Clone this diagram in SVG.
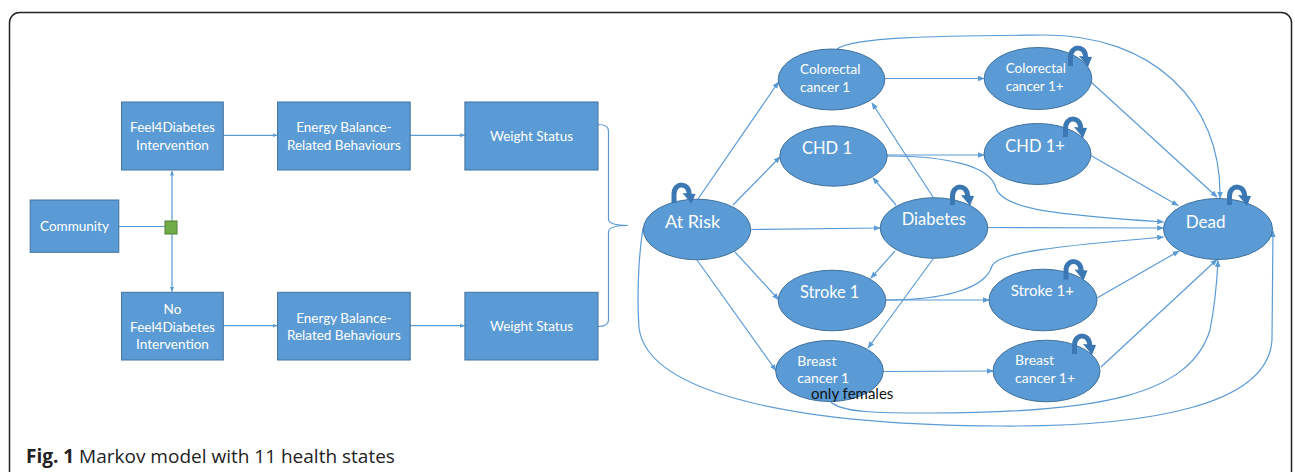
<svg xmlns="http://www.w3.org/2000/svg" width="1295" height="472" viewBox="0 0 1295 472">
<style>
.box{fill:#5B9BD5;stroke:#41719C;stroke-width:1}
.st{fill:#5B9BD5;stroke:#41719C;stroke-width:1}
.bt{font-family:Lato,"Open Sans",sans-serif;font-size:13.5px;fill:#fff;text-anchor:middle}
.et{font-family:Lato,"Open Sans",sans-serif;fill:#fff}
.big{font-size:17px}
.sm{font-size:13.5px}
.ln{fill:none;stroke:#5B9BD5;stroke-width:1.2}
.loop{fill:none;stroke:#3A77B3;stroke-width:5}
.cap{font-family:"Open Sans","Noto Sans",sans-serif;font-size:19px;fill:#222}
</style>
<defs>
<marker id="arr" viewBox="0 0 10 10" refX="9" refY="5" markerWidth="7" markerHeight="7" markerUnits="userSpaceOnUse" orient="auto"><path d="M0,1 L10,5 L0,9 z" fill="#5B9BD5"/></marker>
<marker id="arrs" viewBox="0 0 10 10" refX="9" refY="5" markerWidth="5" markerHeight="5" markerUnits="userSpaceOnUse" orient="auto"><path d="M0,1 L10,5 L0,9 z" fill="#5B9BD5"/></marker>
<g id="selfloop">
<path class="loop" d="M2.5,0 V-9 C2.5,-21 18.5,-21 17.5,-8"/>
<polygon points="11,-10 24,-9 20,1" fill="#3A77B3"/>
</g>
</defs>
<rect x="9.5" y="12.5" width="1282" height="472" rx="10" fill="#fff" stroke="#222" stroke-width="1.5"/>

<g id="connectors">
<path class="ln" d="M118.8,226.5 L172,226.5"/>
<path class="ln" d="M172,226 L172,171" marker-end="url(#arrs)"/>
<path class="ln" d="M172,226 L172,291.5" marker-end="url(#arrs)"/>
<path class="ln" d="M223.3,135.3 L277,135.3" marker-end="url(#arrs)"/>
<path class="ln" d="M410.2,135.3 L464.5,135.3" marker-end="url(#arrs)"/>
<path class="ln" d="M223.3,325.7 L277,325.7" marker-end="url(#arrs)"/>
<path class="ln" d="M410.2,325.7 L464.5,325.7" marker-end="url(#arrs)"/>
<path class="ln" d="M598,124.5 Q608.5,124.5 608.5,131 L608.5,219 Q608.5,225.5 628,225.5 Q608.5,225.5 608.5,232 L608.5,320 Q608.5,326.5 598,326.5"/>

<path class="ln" d="M698,199 L778.5,82" marker-end="url(#arr)"/>
<path class="ln" d="M733,205 L780,157" marker-end="url(#arr)"/>
<path class="ln" d="M751,229.5 L880,228" marker-end="url(#arr)"/>
<path class="ln" d="M735,252 L778.5,299.5" marker-end="url(#arr)"/>
<path class="ln" d="M697,260 L776,370.5" marker-end="url(#arr)"/>
<path class="ln" d="M643,228 C638,260 637,300 639,328 C648,395 800,425 1000,426 C1150,427 1268,405 1272,340 L1273,231" marker-end="url(#arr)"/>
<path class="ln" d="M830,401 C840,413 880,413 930,413 C1100,413 1190,395 1210,330 C1216,300 1217,280 1218,260.5" marker-end="url(#arr)"/>
<path class="ln" d="M837,49 C855,36 950,36 1045,35 C1150,35 1222,100 1220,198" marker-end="url(#arr)"/>
<path class="ln" d="M885,78.5 L984,78.5" marker-end="url(#arr)"/>
<path class="ln" d="M1091,82 L1217,197" marker-end="url(#arr)"/>
<path class="ln" d="M887,155 L984,155" marker-end="url(#arr)"/>
<path class="ln" d="M887,156 C945,156 990,165 996,188 C1003,210 1060,215 1163.5,222" marker-end="url(#arr)"/>
<path class="ln" d="M1090,155 L1178,205.5" marker-end="url(#arr)"/>
<path class="ln" d="M988,227.5 L1163.5,228" marker-end="url(#arr)"/>
<path class="ln" d="M933,197 L872,103" marker-end="url(#arr)"/>
<path class="ln" d="M896,205 L873,178" marker-end="url(#arr)"/>
<path class="ln" d="M895,251 L871,278" marker-end="url(#arr)"/>
<path class="ln" d="M933,259 L868,348" marker-end="url(#arr)"/>
<path class="ln" d="M886,300 L989,300" marker-end="url(#arr)"/>
<path class="ln" d="M886,300 C940,300 985,290 992,266 C998,252 1060,246 1163.5,237" marker-end="url(#arr)"/>
<path class="ln" d="M1097,298 L1179,251" marker-end="url(#arr)"/>
<path class="ln" d="M883,371.5 L993,371" marker-end="url(#arr)"/>
<path class="ln" d="M1101,367 L1217,259.5" marker-end="url(#arr)"/>
</g>

<g id="community"><rect class="box" x="30.2" y="200" width="88.6" height="52.3"/><text class="bt" x="74.5" y="231">Community</text></g>
<g id="split"><rect x="165" y="221" width="12" height="13" fill="#70AD47" stroke="#507E32" stroke-width="1"/></g>
<g id="feel4diabetes"><rect class="box" x="121.6" y="102" width="101.7" height="68"/><text class="bt" x="172.5" y="132.3">Feel4Diabetes</text><text class="bt" x="172.5" y="150">Intervention</text></g>
<g id="ebrb-top"><rect class="box" x="277.6" y="102" width="132.6" height="68"/><text class="bt" x="343.9" y="132.3">Energy Balance-</text><text class="bt" x="343.9" y="150">Related Behaviours</text></g>
<g id="weight-top"><rect class="box" x="464.9" y="102" width="133.1" height="68"/><text class="bt" x="531.5" y="141">Weight Status</text></g>
<g id="no-feel4diabetes"><rect class="box" x="121.6" y="292.3" width="101.7" height="67.7"/><text class="bt" x="172.5" y="314">No</text><text class="bt" x="172.5" y="331.7">Feel4Diabetes</text><text class="bt" x="172.5" y="349">Intervention</text></g>
<g id="ebrb-bottom"><rect class="box" x="277.6" y="292.3" width="132.6" height="67.7"/><text class="bt" x="343.9" y="322.7">Energy Balance-</text><text class="bt" x="343.9" y="340">Related Behaviours</text></g>
<g id="weight-bottom"><rect class="box" x="464.9" y="292.3" width="133.1" height="67.7"/><text class="bt" x="531.5" y="331">Weight Status</text></g>

<g id="at-risk"><ellipse class="st" cx="697" cy="229.5" rx="53.7" ry="30.3"/><use href="#selfloop" x="671.5" y="203"/><text class="et" x="665" y="228" font-size="18">At Risk</text></g>
<g id="colorectal1"><ellipse class="st" cx="831.5" cy="79.5" rx="53.3" ry="30.5"/><text class="et sm" x="800" y="74.3">Colorectal</text><text class="et sm" x="800" y="91.7">cancer 1</text></g>
<g id="chd1"><ellipse class="st" cx="833.5" cy="156" rx="53.7" ry="30.2"/><text class="et" x="802" y="154" font-size="16.5">CHD 1</text></g>
<g id="diabetes"><ellipse class="st" cx="934" cy="228" rx="53.8" ry="30.3"/><use href="#selfloop" x="950" y="205"/><text class="et" x="901.7" y="225" font-size="16.5">Diabetes</text></g>
<g id="stroke1"><ellipse class="st" cx="832" cy="300.5" rx="53.8" ry="30.3"/><text class="et" x="800" y="297.7" font-size="16.3">Stroke 1</text></g>
<g id="breast1"><ellipse class="st" cx="829.5" cy="371" rx="53.8" ry="30.5"/><text class="et" x="797.3" y="366" font-size="14">Breast</text><text class="et" x="797.3" y="383" font-size="14">cancer 1</text></g>
<g id="colorectal1plus"><ellipse class="st" cx="1038" cy="78.5" rx="53.8" ry="31"/><use href="#selfloop" x="1068" y="66"/><text class="et sm" x="1005.7" y="73.3">Colorectal</text><text class="et sm" x="1005.7" y="90.7">cancer 1+</text></g>
<g id="chd1plus"><ellipse class="st" cx="1037.5" cy="154" rx="53.5" ry="30.5"/><use href="#selfloop" x="1063" y="137"/><text class="et" x="1005.3" y="152.3" font-size="16.5">CHD 1+</text></g>
<g id="dead"><ellipse class="st" cx="1218" cy="229" rx="54.5" ry="30.5"/><use href="#selfloop" x="1227" y="205"/><text class="et" x="1185.7" y="228.3" font-size="17">Dead</text></g>
<g id="stroke1plus"><ellipse class="st" cx="1043" cy="300" rx="54" ry="30.8"/><use href="#selfloop" x="1063.5" y="279.5"/><text class="et" x="1010.7" y="295.7" font-size="15">Stroke 1+</text></g>
<g id="breast1plus"><ellipse class="st" cx="1046.5" cy="371" rx="53.5" ry="30.8"/><use href="#selfloop" x="1072" y="354"/><text class="et" x="1015" y="365" font-size="14">Breast</text><text class="et" x="1015" y="382.7" font-size="14">cancer 1+</text></g>
<g id="note"><text x="811" y="399" font-family="Lato,'Open Sans',sans-serif" font-size="15" fill="#111">only females</text></g>

<g id="caption"><text class="cap" x="26" y="463"><tspan font-weight="bold">Fig. 1</tspan> Markov model with 11 health states</text></g>
</svg>
